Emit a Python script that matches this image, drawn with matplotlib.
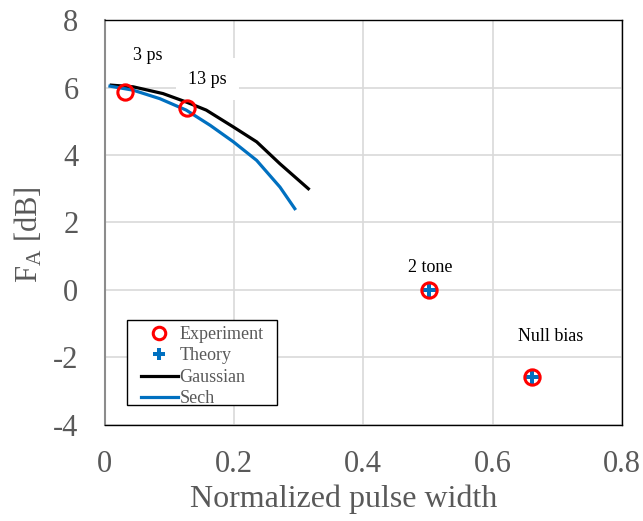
import matplotlib
matplotlib.use("Agg")
import matplotlib.pyplot as plt
from matplotlib.lines import Line2D
from matplotlib.patches import Rectangle

plt.rcParams['font.family'] = ['Liberation Serif', 'DejaVu Serif']
plt.rcParams['mathtext.fontset'] = 'custom'
plt.rcParams['mathtext.rm'] = 'Liberation Serif'
plt.rcParams['mathtext.it'] = 'Liberation Serif:italic'
plt.rcParams['axes.unicode_minus'] = False

# Data
gauss_x = [0.01, 0.044, 0.090, 0.126, 0.157, 0.199, 0.235, 0.271, 0.315]
gauss_y = [6.07, 6.02, 5.82, 5.57, 5.33, 4.83, 4.39, 3.74, 3.00]
sech_x = [0.008, 0.044, 0.085, 0.126, 0.163, 0.199, 0.235, 0.271, 0.294]
sech_y = [6.04, 5.92, 5.67, 5.33, 4.88, 4.39, 3.84, 3.05, 2.41]
exp_x = [0.031, 0.127, 0.502, 0.661]
exp_y = [5.86, 5.39, 0.0, -2.59]
theory_x = [0.502, 0.661]
theory_y = [0.0, -2.59]
annot_text = ["3 ps", "13 ps", "2 tone", "Null bias"]
annot_x = [0.066, 0.159, 0.503, 0.690]
annot_y = [6.95, 6.25, 0.67, -1.39]
annot_boxed = [False, True, False, False]
xticks = [0, 0.2, 0.4, 0.6, 0.8]
xtick_labels = ["0", "0.2", "0.4", "0.6", "0.8"]
yticks = [-4, -2, 0, 2, 4, 6, 8]

fig = plt.figure(figsize=(6.43, 5.21), dpi=100)
ax = fig.add_axes([0.163, 0.1843, 0.967 - 0.163, 0.9616 - 0.1843])

ax.plot(gauss_x, gauss_y, color='black', lw=2.3, zorder=3)
ax.plot(sech_x, sech_y, color='#0070C0', lw=2.3, zorder=3)
ax.plot(theory_x, theory_y, linestyle='none', marker='P', markersize=10,
        color='#0070C0', markeredgewidth=0, zorder=4)
ax.plot(exp_x, exp_y, linestyle='none', marker='o', markersize=11,
        markerfacecolor='none', markeredgecolor='#FF0000', markeredgewidth=2.2, zorder=5)

for t, x, y, b in zip(annot_text, annot_x, annot_y, annot_boxed):
    kw = {}
    if b:
        kw['bbox'] = dict(facecolor='white', edgecolor='none', pad=9)
    ax.text(x, y, t, fontsize=13, ha='center', va='center', color='black', zorder=2.5, **kw)

ax.set_xlim(0, 0.8)
ax.set_ylim(-4, 8)
ax.set_xticks(xticks)
ax.set_xticklabels(xtick_labels)
ax.set_yticks(yticks)
ax.grid(True, color='#d9d9d9', lw=1.2, zorder=0)
ax.set_axisbelow(True)
ax.tick_params(length=0, labelsize=22, colors='#595959')
ax.tick_params(axis='x', pad=18)
ax.tick_params(axis='y', pad=19)
for s in ['top', 'right', 'bottom']:
    ax.spines[s].set_color('black')
    ax.spines[s].set_linewidth(1.0)
ax.spines['left'].set_color('#8c8c8c')
ax.spines['left'].set_linewidth(1.5)

ax.set_xlabel('Normalized pulse width', fontsize=23, color='#595959')
ax.xaxis.label.set_verticalalignment('center')
ax.xaxis.set_label_coords(0.463, -0.183)
ax.set_ylabel(r'F$_\mathrm{A}$ [dB]', fontsize=22, color='#595959')
ax.yaxis.label.set_verticalalignment('center')
ax.yaxis.set_label_coords(-0.147, 0.469)

# legend frame
ax.add_patch(Rectangle((0.0426, 0.0494), 0.3327 - 0.0426, 0.2593 - 0.0494,
                       transform=ax.transAxes, facecolor='white', edgecolor='black',
                       lw=1.0, zorder=6))

handles = [
    Line2D([], [], linestyle='none', marker='o', markersize=9, markerfacecolor='none',
           markeredgecolor='#FF0000', markeredgewidth=2.2),
    Line2D([], [], linestyle='none', marker='P', markersize=9, color='#0070C0', markeredgewidth=0),
    Line2D([], [], color='black', lw=2.3),
    Line2D([], [], color='#0070C0', lw=2.3),
]
leg = ax.legend(handles, ['Experiment', 'Theory', 'Gaussian', 'Sech'],
                loc='upper left', bbox_to_anchor=(0.0696, 0.2446),
                fontsize=13, frameon=False,
                handlelength=2.05, handletextpad=0.1, labelspacing=0.25,
                borderpad=0, borderaxespad=0)
leg.set_zorder(7)
for t in leg.get_texts():
    t.set_color('#595959')

fig.savefig('out.png', dpi=100)
